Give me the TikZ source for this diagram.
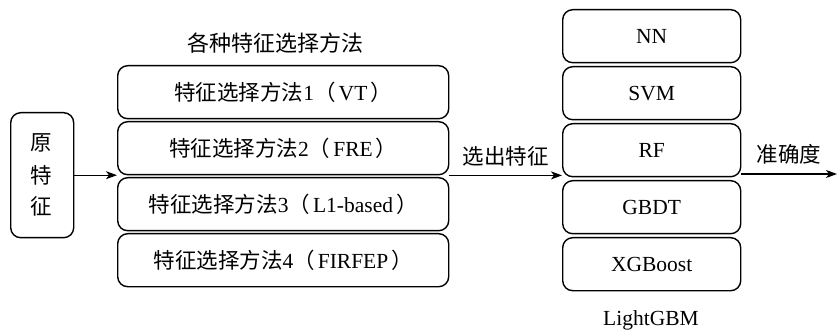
\documentclass[tikz,border=0pt]{standalone}
\usepackage{fontspec}
\setmainfont{Liberation Serif}
\newfontfamily\cjk{Noto Sans CJK SC}
\usetikzlibrary{arrows.meta}
\newcommand{\lp}{{\cjk （}\hspace{3pt}}
\newcommand{\rp}{\hspace{3pt}{\cjk ）}}
\begin{document}
\begin{tikzpicture}[x=1pt,y=-1pt,
  every node/.style={font=\fontsize{21.5}{26}\selectfont, inner sep=0pt},
  rbox/.style={draw, line width=1.4pt, rounded corners=10pt, minimum height=53pt, anchor=north west},
  mbox/.style={rbox, minimum width=331pt},
  cbox/.style={rbox, minimum width=178pt},
  arr/.style={line width=1.3pt, -{Stealth[length=11pt,width=8pt,inset=3pt]}}]
\useasboundingbox (0,0) rectangle (838,331);
% original features
\node[rbox, minimum width=63pt, minimum height=125pt] (orig) at (10,112) {};
\node (o1) at (41.5,143) {\cjk 原};
\node (o2) at (41.5,175) {\cjk 特};
\node (o3) at (41.5,206) {\cjk 征};
% title
\node[font=\fontsize{22}{26}\selectfont] (title) at (275,43) {\cjk 各种特征选择方法};
% method boxes
\node[mbox] (m1) at (117,65) {{\cjk 特征选择方法}1\lp VT\rp};
\node[mbox] (m2) at (117,121) {{\cjk 特征选择方法}2\lp FRE\rp};
\node[mbox] (m3) at (117,177) {{\cjk 特征选择方法}3\lp L1-based\rp};
\node[mbox] (m4) at (117,233) {{\cjk 特征选择方法}4\lp FIRFEP\rp};
% classifiers
\node[cbox] (nn) at (562,9) {NN};
\node[cbox] (svm) at (562,66) {SVM};
\node[cbox] (rf) at (562,123) {RF};
\node[cbox] (gbdt) at (562,180) {GBDT};
\node[cbox] (xgb) at (562,237) {XGBoost};
\node (lgbm) at (651,320) {LightGBM};
% arrows
\draw[arr] (orig.east) -- (orig.east -| m2.west);
\draw[arr] (m2.south east) -- (m2.south east -| rf.west)
  node[midway, above=9pt] (sel) {\cjk 选出特征};
\coordinate (end) at (837,174);
\draw[arr] (rf.south east |- end) -- (end)
  node[midway, above=9pt] (acc) {\cjk 准确度};
\end{tikzpicture}
\end{document}
